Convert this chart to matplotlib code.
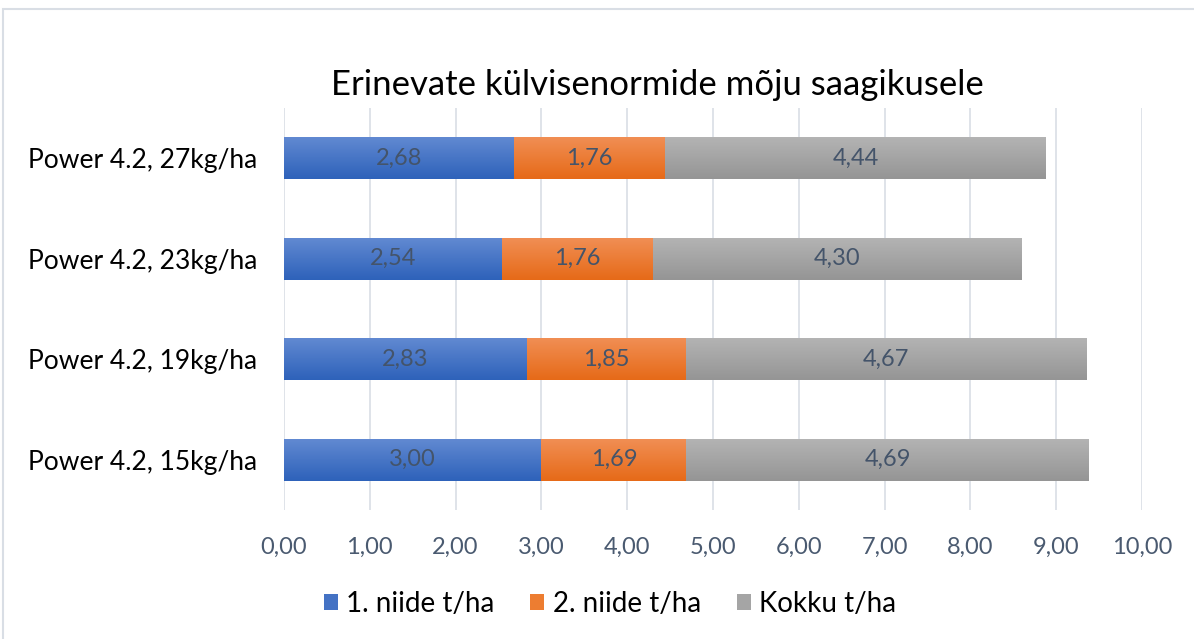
import numpy as np
import matplotlib.pyplot as plt
from matplotlib.ticker import FuncFormatter, MultipleLocator
from matplotlib.patches import Rectangle
from matplotlib.colors import LinearSegmentedColormap

# andmed (ülevalt alla nagu pildil)
categories = ["Power 4.2, 27kg/ha", "Power 4.2, 23kg/ha",
              "Power 4.2, 19kg/ha", "Power 4.2, 15kg/ha"]
niide1 = [2.68, 2.54, 2.83, 3.00]
niide2 = [1.76, 1.76, 1.85, 1.69]
kokku = [4.44, 4.30, 4.67, 4.69]
series_names = ["1. niide t/ha", "2. niide t/ha", "Kokku t/ha"]
colors = ["#4472C4", "#ED7D31", "#A5A5A5"]
# gradient: ülemine heledam, alumine tumedam
grad = [("#628AD2", "#2E62BA"), ("#F18F55", "#E66A18"), ("#B4B4B4", "#959595")]

plt.rcParams['font.family'] = ['Lato', 'DejaVu Sans']

fig = plt.figure(figsize=(11.94, 6.39), dpi=100)
ax = fig.add_axes([284/1194, 1-510/639, (1142-284)/1194, (510-108)/639])

y = np.arange(len(categories))
left = np.zeros(len(categories))
g = np.linspace(0, 1, 64).reshape(-1, 1)
for vals, name, col, (c_top, c_bot) in zip([niide1, niide2, kokku], series_names, colors, grad):
    vals = np.array(vals)
    cmap = LinearSegmentedColormap.from_list(name, [c_top, c_bot])
    bars = ax.barh(y, vals, left=left, height=0.42, color=col, label=name, zorder=3)
    for b, v in zip(bars, vals):
        x0, y0, w, h = b.get_x(), b.get_y(), b.get_width(), b.get_height()
        # y-telg on pööratud, seega y0 on ülemine serv pildil
        im = ax.imshow(g, cmap=cmap, aspect="auto", extent=(x0, x0 + w, y0 + h, y0),
                       zorder=3.5, interpolation="bilinear")
        im.set_clip_path(b)
        ax.text(x0 + w/2, y0 + h/2, f"{v:.2f}".replace(".", ","), ha="center", va="center",
                fontsize=17, color="#44546A", zorder=4)
    left = left + vals

ax.set_xlim(0, 10)
ax.set_ylim(len(categories) - 0.5, -0.5)
ax.xaxis.set_major_locator(MultipleLocator(1))
ax.xaxis.set_major_formatter(FuncFormatter(lambda v, p: f"{v:.2f}".replace(".", ",")))
ax.set_yticks(y)
ax.set_yticklabels(categories, fontsize=19, color="black")
ax.tick_params(axis="x", labelsize=17, labelcolor="#4A5A70", length=0, pad=19)
ax.tick_params(axis="y", length=0, pad=19.5)
ax.grid(axis="x", color="#D9DEE5", linewidth=1.2, zorder=0)
for s in ax.spines.values():
    s.set_visible(False)

fig.text(0.5 * (330 + 985) / 1194, 1 - 85/639, "Erinevate külvisenormide mõju saagikusele",
         ha="center", va="center", fontsize=25, color="black")

leg = fig.legend(loc="center", bbox_to_anchor=(610/1194, 1 - 604/639), ncol=3, frameon=False,
                 fontsize=20, handlelength=0.5, handleheight=0.5, handletextpad=0.3,
                 columnspacing=1.3)

fig.patches.append(Rectangle((3/1194, -0.01), 1.01, 1 - 9/639 + 0.01, transform=fig.transFigure,
                             fill=False, edgecolor="#D9DEE5", linewidth=1.5))

fig.savefig("out.png", dpi=100)
